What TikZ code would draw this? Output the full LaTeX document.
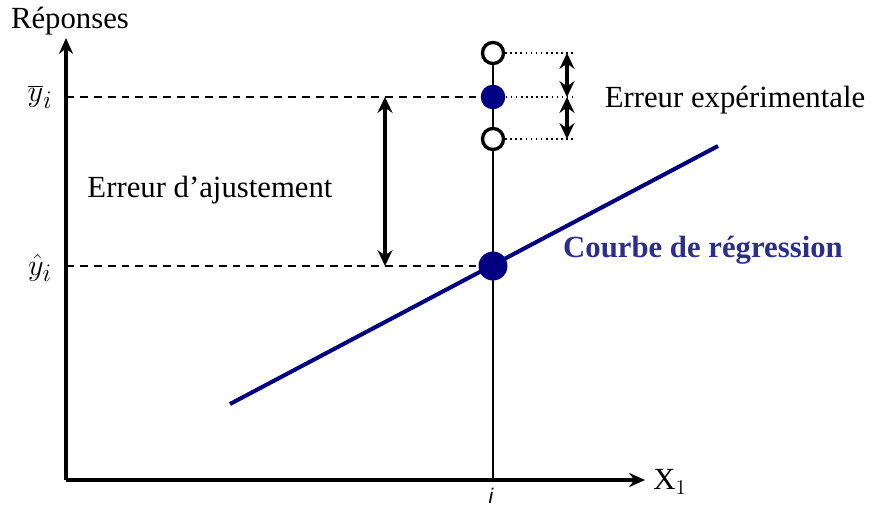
\documentclass[tikz,border=0pt]{standalone}
\usepackage{fontspec}
\setmainfont{Liberation Serif}
\setsansfont{Liberation Sans}
\usepackage{xcolor}
\usepackage{tikz}
\usetikzlibrary{arrows.meta,positioning,backgrounds}
\definecolor{RegLine}{HTML}{000080}
\definecolor{RegText}{HTML}{2B2E8C}
\definecolor{PtFill}{HTML}{000080}

\begin{document}
\begin{tikzpicture}[x=0.02cm,y=-0.02cm,
  axis/.style={-{Stealth[length=9pt,width=8pt]},line width=2.3pt},
  guide/.style={line width=1.1pt,dashed,dash pattern=on 4.5pt off 3.4pt},
  dots/.style={line width=0.9pt,dotted},
  err/.style={{Stealth[length=9pt,width=8.5pt]}-{Stealth[length=9pt,width=8.5pt]},
    line width=2pt},
  ptfull/.style={circle,fill=PtFill,inner sep=0pt,minimum size=#1},
  ptopen/.style={circle,draw,fill=white,line width=1.9pt,inner sep=0pt,
    minimum size=12pt},
  reg/.style={draw=RegLine,line width=2.3pt},
  lbl/.style={font=\fontsize{17.5}{20}\selectfont},
  mlbl/.style={font=\fontsize{19}{21}\selectfont,inner sep=1pt},
  rlbl/.style={font=\fontsize{17.5}{20}\selectfont\bfseries,text=RegText}
]
\useasboundingbox (0,0) rectangle (870,508);
% axes
\coordinate (O) at (66,480);
\coordinate (ytop) at (66,38);
\coordinate (xend) at (645,480);
\coordinate (ybar) at (66,97);
\coordinate (yhat) at (66,266);
\coordinate (foot) at (493,480);
% points on the vertical at i
\node[ptopen]        (up)   at (493,53)  {};
\node[ptfull=14pt]   (mean) at (493,97)  {};
\node[ptopen]        (lo)   at (493,139) {};
\node[ptfull=16.5pt] (fit)  at (493,266) {};
\coordinate (r0) at (230,404);
\coordinate (r1) at (718,146);
\begin{scope}[on background layer]
  \draw[line width=1.1pt] (foot) -- (up.center);
  \draw[guide] (ybar) -- (mean.center);
  \draw[guide] (yhat) -- (fit.center);
  \draw[reg] (r0) -- (r1);
\end{scope}
\draw[axis] (O) -- (ytop);
\draw[axis] (O) -- (xend);
% experimental error
\coordinate (d1) at (575,53);
\coordinate (d2) at (575,97);
\coordinate (d3) at (575,139);
\draw[dots] (up.east) -- (d1);
\draw[dots] (mean.east) -- (d2);
\draw[dots] (lo.east) -- (d3);
\coordinate (a1) at (567,53);
\coordinate (a2) at (567,97);
\coordinate (a3) at (567,139);
\draw[err] (a1) -- (a2);
\draw[err] (a2) -- (a3);
% fit error
\coordinate (b1) at (385,97);
\coordinate (b2) at (385,266);
\draw[err] (b1) -- (b2);
% labels
\node[lbl]  (rep)  at (70,21)  {Réponses};
\node[mlbl] (ybl)  at (40,97)  {$\overline{y}_i$};
\node[mlbl] (yhl)  at (40,268) {$\hat{y}_i$};
\node[lbl]  (xl)   at (670,482) {X$_1$};
\node[font=\sffamily\itshape\fontsize{12}{14}\selectfont,inner sep=1pt]
  (il) at (491,496) {i};
\node[lbl]  (eaj)  at (210,190) {Erreur d’ajustement};
\node[lbl]  (eexp) at (735,100) {Erreur expérimentale};
\node[rlbl] (creg) at (703,250) {Courbe de régression};
\end{tikzpicture}
\end{document}
